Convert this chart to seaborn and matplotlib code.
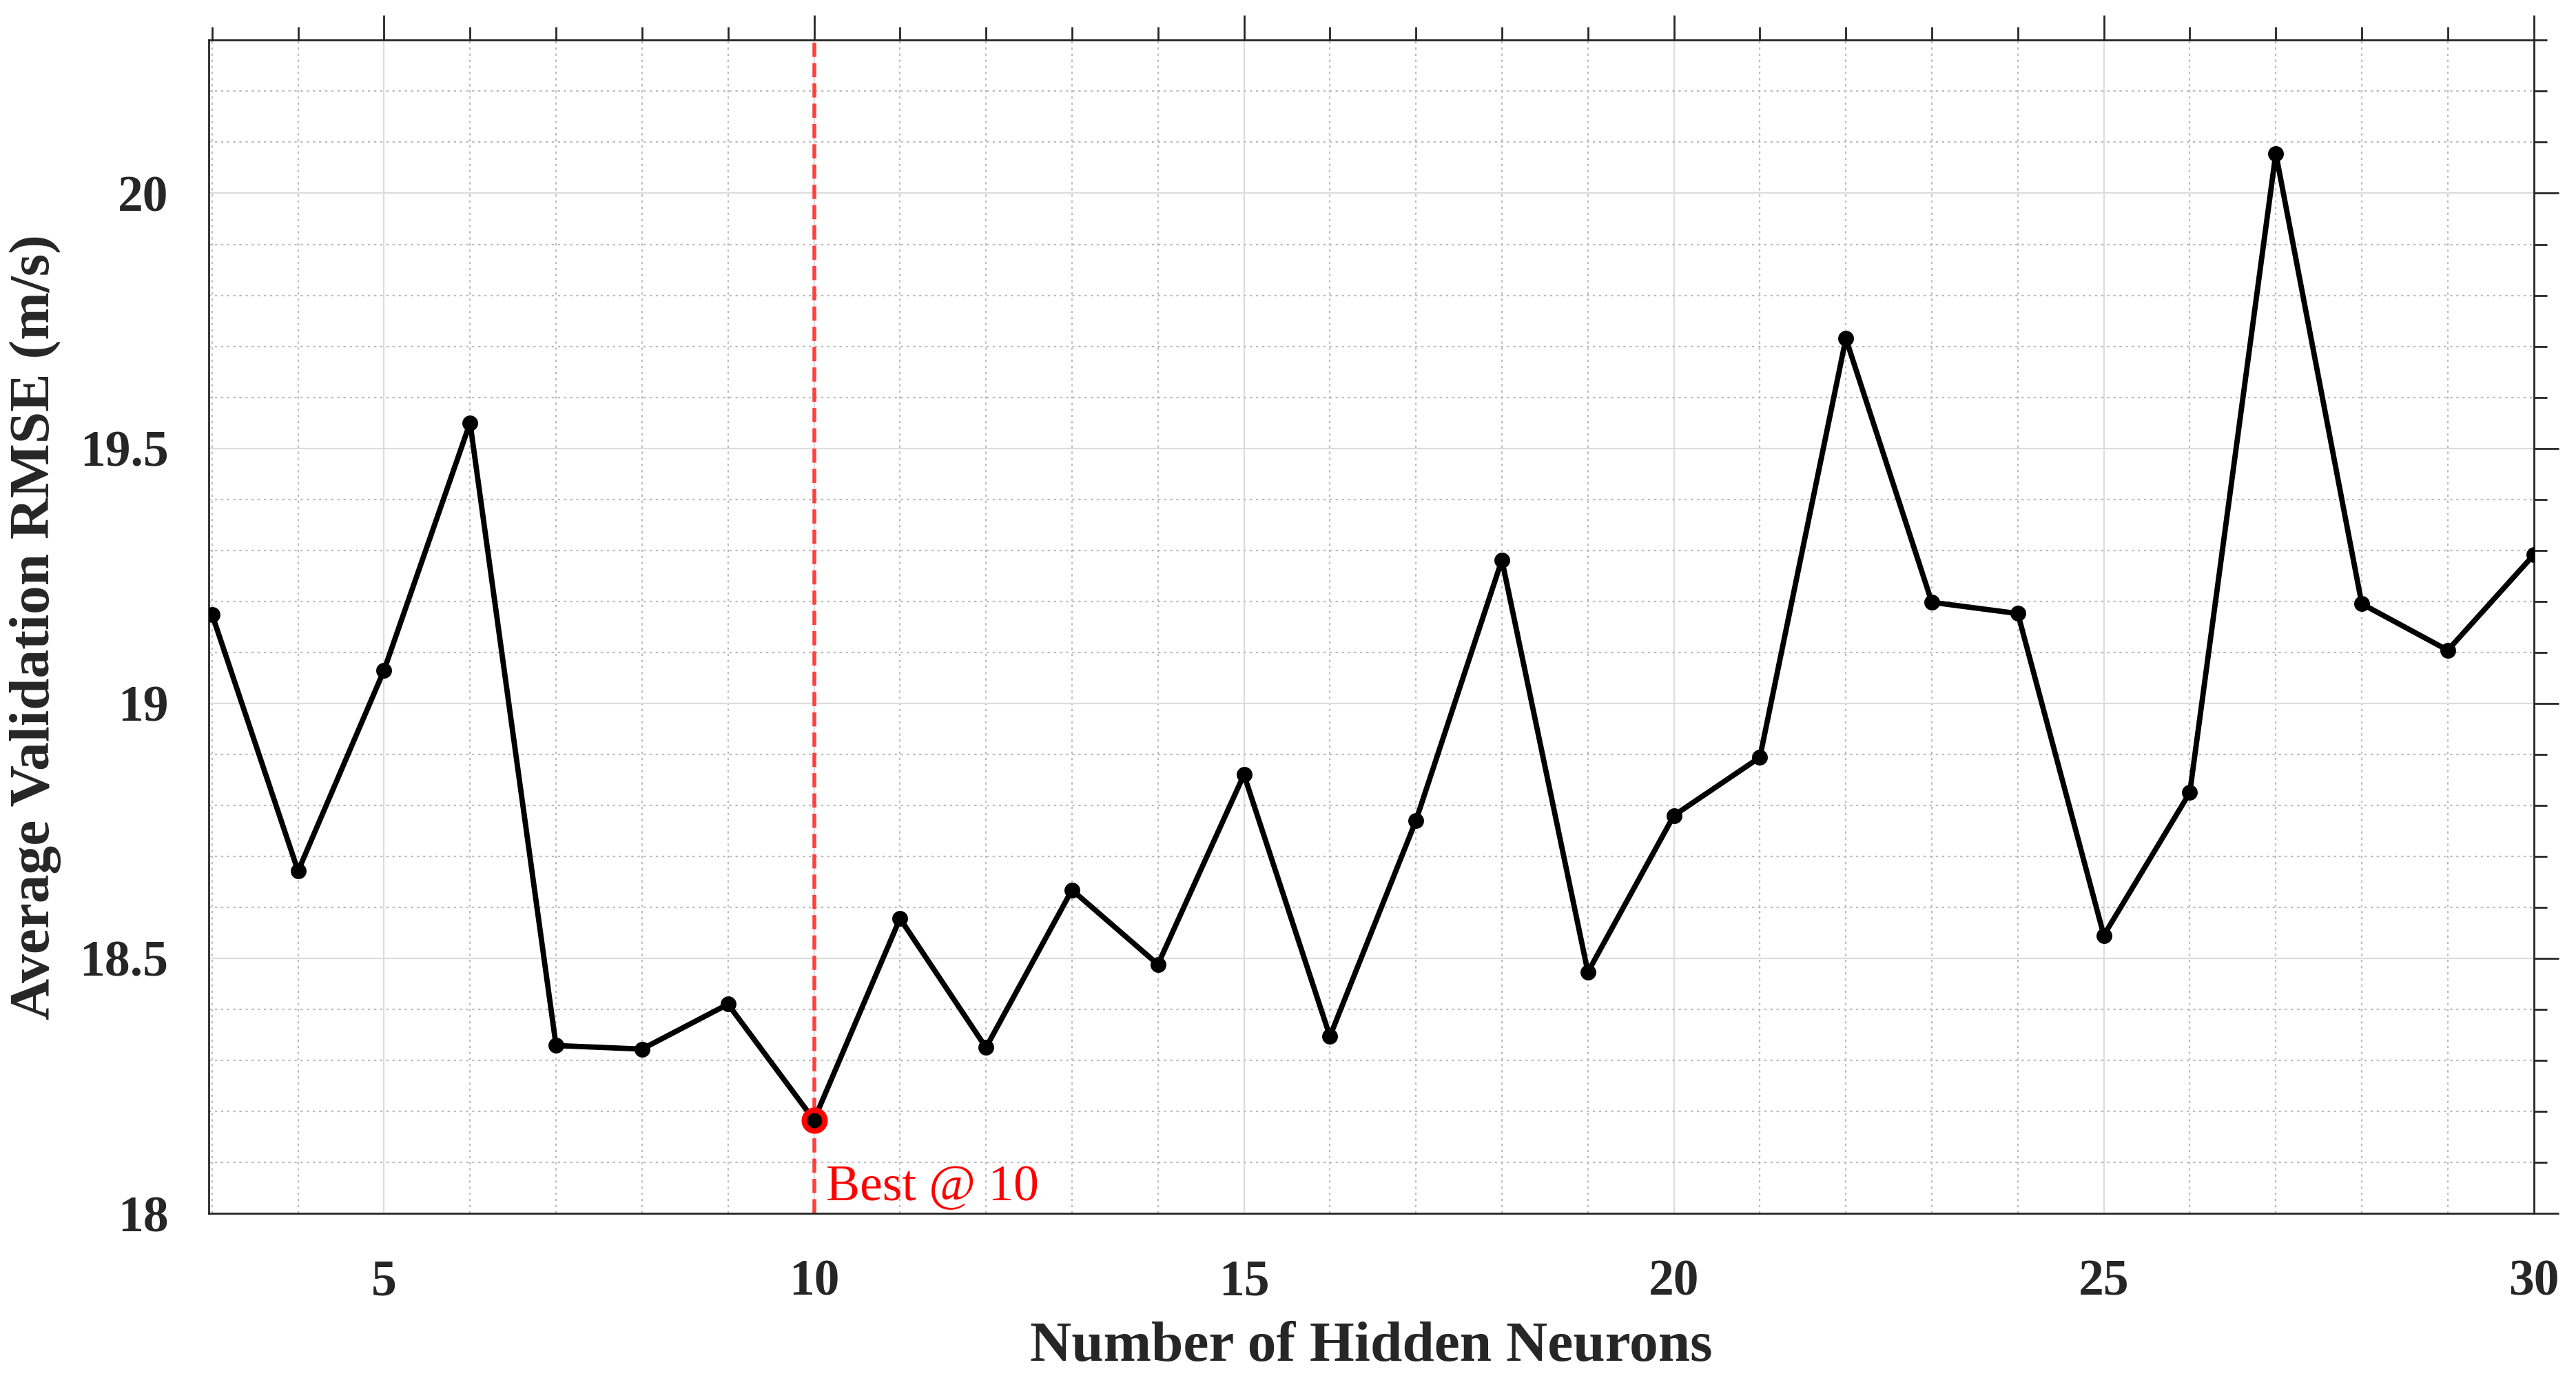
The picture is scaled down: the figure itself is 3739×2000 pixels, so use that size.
import numpy as np
import pandas as pd
import matplotlib
matplotlib.use("Agg")
import matplotlib.pyplot as plt
import seaborn as sns
from matplotlib.ticker import MultipleLocator

# 隠れ層ニューロン数ごとの平均検証RMSE
neurons = list(range(3, 31))
rmse = [19.174, 18.671, 19.065, 19.550, 18.329, 18.322, 18.410, 18.183,
        18.578, 18.325, 18.634, 18.488, 18.860, 18.347, 18.770, 19.281,
        18.473, 18.780, 18.894, 19.715, 19.198, 19.176, 18.545, 18.825,
        20.078, 19.195, 19.104, 19.291]

xlabel = "Number of Hidden Neurons"
ylabel = "Average Validation RMSE (m/s)"

df = pd.DataFrame({"neurons": neurons, "rmse": rmse})
best = df.loc[df["rmse"].idxmin()]
best_n = int(best["neurons"])

sns.set_style("white")
plt.rcParams["font.family"] = ["Liberation Serif", "DejaVu Serif"]
plt.rcParams["font.weight"] = "bold"

ink = "#262626"

fig = plt.figure(figsize=(3739 / 200, 2000 / 200), dpi=200)
ax = fig.add_axes([0.081, 0.1195, 0.9026, 0.8513])

# グリッド（主: 実線, 副: 点線）
ax.xaxis.set_major_locator(MultipleLocator(5))
ax.xaxis.set_minor_locator(MultipleLocator(1))
ax.yaxis.set_major_locator(MultipleLocator(0.5))
ax.yaxis.set_minor_locator(MultipleLocator(0.1))
ax.grid(which="major", color="#dcdcdc", linestyle="-", linewidth=0.8)
ax.grid(which="minor", color="#bcbcbc", linestyle=(0, (1.5, 2.5)), linewidth=0.8)
ax.set_axisbelow(True)

# 最良点の縦線
ax.axvline(best_n, color=(1, 0.25, 0.25), linestyle="--", linewidth=2, zorder=2)

sns.lineplot(data=df, x="neurons", y="rmse", ax=ax, color="black",
             linewidth=2.8, marker="o", markersize=7.5,
             markeredgecolor="black", markerfacecolor="black", zorder=3)

ax.plot(best_n, best["rmse"], marker="o", markersize=10.8, markerfacecolor="none",
        markeredgecolor="red", markeredgewidth=2.9, zorder=4)
ax.text(best_n + 0.14, 18.025, f"Best @ {best_n}", color="red", fontsize=26.5,
        fontweight="normal", ha="left", va="baseline", zorder=5)

ax.set_xlim(2.96, 30)
ax.set_ylim(18, 20.3)

for side in ["left", "right", "top", "bottom"]:
    ax.spines[side].set_visible(True)
    ax.spines[side].set_color(ink)
    ax.spines[side].set_linewidth(1.0)

ax.tick_params(which="both", direction="out", top=True, right=True,
               color=ink, labelcolor=ink, width=1.0)
ax.tick_params(which="major", length=13, labelsize=26.5)
ax.tick_params(axis="x", which="major", pad=11)
ax.tick_params(axis="y", which="major", pad=8)
ax.tick_params(which="minor", length=6.7)
ax.yaxis.set_major_formatter(matplotlib.ticker.FuncFormatter(lambda v, p: f"{v:g}"))

ax.set_xlabel(xlabel, fontsize=30, fontweight="bold", color=ink)
ax.set_ylabel(ylabel, fontsize=30, fontweight="bold", color=ink)
ax.xaxis.set_label_coords(0.5, -0.114)
ax.xaxis.label.set_verticalalignment("center")
ax.yaxis.set_label_coords(-0.0745, 0.5)
ax.yaxis.label.set_verticalalignment("center")

fig.savefig("out.png", dpi=200, facecolor="white")
